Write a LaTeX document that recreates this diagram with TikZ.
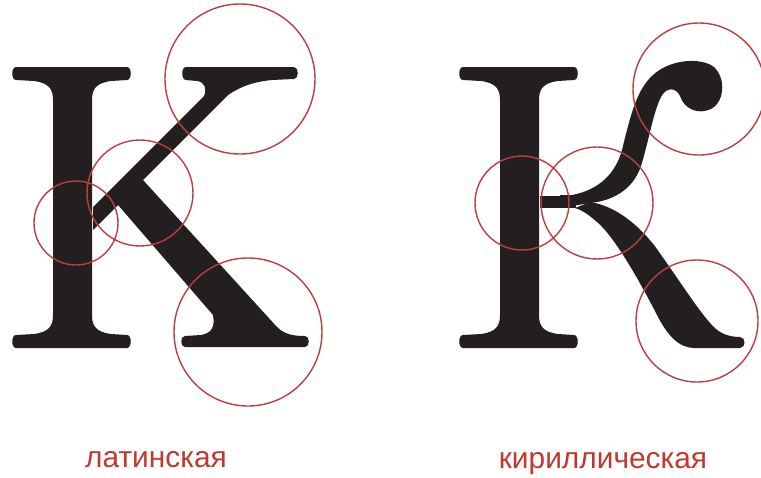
\documentclass[tikz,border=0pt]{standalone}
\usepackage{fontspec}
\setmainfont{Liberation Sans}
\usepackage{tikz}
\definecolor{glyphink}{HTML}{231F20}
\definecolor{guide}{HTML}{BC3F3F}
\definecolor{captionred}{HTML}{C2382F}

\newcommand{\kstem}{%
  \fill[glyph] (16,67) -- (127,67) .. controls (132,67) and (132,80) .. (127,80)
    -- (111,81) .. controls (96,83) and (92,89) .. (92,100) -- (92,315)
    .. controls (92,326) and (96,332) .. (111,334) -- (127,335)
    .. controls (132,335) and (132,348) .. (127,348) -- (16,348)
    .. controls (11,348) and (11,335) .. (16,335) -- (34,334)
    .. controls (49,332) and (53,326) .. (53,315) -- (53,100)
    .. controls (53,89) and (49,83) .. (34,81) -- (16,80)
    .. controls (11,80) and (11,67) .. (16,67) -- cycle;}

\begin{document}
\begin{tikzpicture}[x=0.02cm,y=-0.02cm,
  glyph/.style={fill=glyphink},
  ring/.style={draw=guide,line width=0.8pt},
  caption/.style={text=captionred,font=\fontsize{17}{20}\selectfont,inner sep=0pt,anchor=base}]
  \useasboundingbox (0,0) rectangle (761,477);
  % latin K
  \kstem
  \fill[glyph] (186,67) -- (294,67) .. controls (299,67) and (299,79) .. (294,79)
    -- (272,80) .. controls (252,82) and (240,87) .. (228,95) -- (93,230) -- (93,207)
    -- (204,96) .. controls (207,89) and (205,82) .. (197,81) -- (186,80)
    .. controls (181,80) and (181,67) .. (186,67) -- cycle;
  \fill[glyph] (112,198) -- (143,180) -- (277,327) .. controls (285,335) and (295,336) .. (305,336)
    .. controls (310,336) and (310,347) .. (305,347) -- (185,347)
    .. controls (180,347) and (180,336) .. (185,336) -- (201,335)
    .. controls (212,333) and (215,327) .. (213,315) -- cycle;
  % cyrillic K
  \begin{scope}[shift={(447,0)}]
    \kstem
  \end{scope}
  \fill[glyph] (540,196) rectangle (576,208);
  \fill[glyph] (560,195) -- (572,195) .. controls (598,190) and (615,175) .. (622,150)
    .. controls (630,118) and (636,90) .. (653,75) .. controls (668,61) and (695,57) .. (711,65)
    .. controls (726,74) and (726,101) .. (711,109) .. controls (698,115) and (684,109) .. (680,96)
    .. controls (676,87) and (666,87) .. (661,97) .. controls (653,113) and (649,140) .. (641,166)
    .. controls (633,190) and (612,201) .. (590,203) -- (560,208) -- cycle;
  \fill[glyph] (575,208) -- (590,202) .. controls (616,206) and (638,225) .. (654,245)
    .. controls (676,275) and (702,317) .. (716,329) .. controls (723,335) and (732,337) .. (740,337)
    .. controls (746,337) and (746,348) .. (740,348) -- (694,348)
    .. controls (679,348) and (667,335) .. (657,315) .. controls (639,280) and (614,236) .. (597,222)
    .. controls (589,215) and (582,210) .. (575,208) -- cycle;
  % guide circles
  \draw[ring] (240,79) circle[radius=75];
  \draw[ring] (140,193) circle[radius=53];
  \draw[ring] (76,223) circle[radius=42];
  \draw[ring] (248,332) circle[radius=74];
  \draw[ring] (699,89) circle[radius=66];
  \draw[ring] (597,203) circle[radius=56];
  \draw[ring] (522,203) circle[radius=47];
  \draw[ring] (697,321) circle[radius=61];
  \node[caption] (latname) at (156,467) {латинская};
  \node[caption] (cyrname) at (603,468) {кириллическая};
\end{tikzpicture}
\end{document}
